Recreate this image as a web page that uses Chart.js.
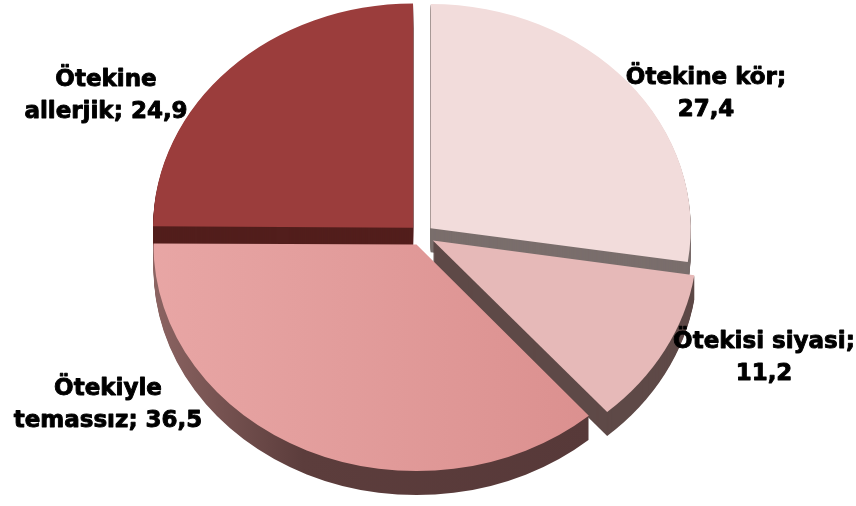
<!DOCTYPE html>
<html>
<head>
<meta charset="utf-8">
<script src="https://cdn.jsdelivr.net/npm/chart.js@4"></script>
<style>
html, body { margin: 0; padding: 0; background: #fff; overflow: hidden; width: 856px; height: 506px; }
#box { position: absolute; left: 0; top: -51px; width: 856px; height: 572px; }
</style>
</head>
<body>
<div id="box"><canvas id="pie"></canvas></div>
<script>
var categories = ['Ötekine kör', 'Ötekisi siyasi', 'Ötekiyle temassız', 'Ötekine allerjik'];
var values = [27.4, 11.2, 36.5, 24.9];

// looks
var faceColors = ['#f2dcdb', '#e6b9b8', '#e19a99', '#9b3d3c'];
var wallColors = ['#7a6e6c', '#5e4947', '#5a3b3b', '#521e1c'];
var explode = [48, 52, 48, 48];
var labelAt = [[706, 94], [764, 358], [108, 405], [106, 96]];
var wrapWidth = [190, 230, 215, 180];
var tilt = 0.862, depth = 24, shiftY = 51;

function faceFill(c) {
    var chart = c.chart, area = chart.chartArea;
    if (c.dataIndex == 2 && area) {
        var g = chart.ctx.createLinearGradient(150, 0, 600, 0);
        g.addColorStop(0, '#e8a6a5');
        g.addColorStop(1, '#db908f');
        return g;
    }
    return faceColors[c.dataIndex];
}

function wallFill(ctx, i) {
    if (i == 2) {
        var g = ctx.createLinearGradient(150, 0, 600, 0);
        g.addColorStop(0, '#8e6664');
        g.addColorStop(0.35, '#5c3d3c');
        g.addColorStop(1, '#573939');
        return g;
    }
    return wallColors[i];
}

function fmt(v) {
    return v.toFixed(1).replace('.', ',');
}

function wrap(ctx, text, max) {
    var words = text.split(' '), lines = [], cur = '';
    words.forEach(function(w) {
        var t = cur ? cur + ' ' + w : w;
        if (cur && ctx.measureText(t).width > max) {
            lines.push(cur);
            cur = w;
        } else {
            cur = t;
        }
    });
    lines.push(cur);
    return lines;
}

var pie3d = {
    id: 'pie3d',
    beforeDatasetsDraw: function(chart) {
        var ctx = chart.ctx;
        var arcs = chart.getDatasetMeta(0).data;
        var cx = arcs[0].x, cy = arcs[0].y;
        ctx.save();
        ctx.translate(cx, cy);
        ctx.scale(1, tilt);
        ctx.translate(-cx, -cy);
        // stack the sides under each slice
        for (var d = depth; d > 0; d--) {
            arcs.forEach(function(arc, i) {
                var o = arc.options;
                arc.options = Object.assign({}, o, { backgroundColor: wallFill(ctx, i), borderWidth: 0 });
                ctx.save();
                ctx.translate(0, d / tilt);
                arc.draw(ctx);
                ctx.restore();
                arc.options = o;
            });
        }
    },
    afterDatasetsDraw: function(chart) {
        var ctx = chart.ctx;
        ctx.restore();
        ctx.save();
        ctx.font = 'bold 23px "DejaVu Sans"';
        ctx.fillStyle = '#000';
        ctx.strokeStyle = '#000';
        ctx.lineWidth = 0.9;
        ctx.lineJoin = 'round';
        ctx.textAlign = 'center';
        ctx.textBaseline = 'middle';
        categories.forEach(function(name, i) {
            var lines = wrap(ctx, name + '; ' + fmt(values[i]), wrapWidth[i]);
            var lh = 32;
            var y0 = labelAt[i][1] + shiftY - (lines.length - 1) * lh / 2;
            lines.forEach(function(l, j) {
                ctx.strokeText(l, labelAt[i][0], y0 + j * lh);
                ctx.fillText(l, labelAt[i][0], y0 + j * lh);
            });
        });
        ctx.restore();
    }
};

new Chart(document.getElementById('pie'), {
    type: 'pie',
    data: {
        labels: categories,
        datasets: [{
            data: values,
            backgroundColor: faceFill,
            borderWidth: 0,
            offset: explode,
            clip: false
        }]
    },
    options: {
        responsive: true,
        maintainAspectRatio: false,
        animation: false,
        events: [],
        layout: { padding: { right: 13 } },
        plugins: {
            legend: { display: false },
            tooltip: { enabled: false }
        }
    },
    plugins: [pie3d]
});
</script>
</body>
</html>
